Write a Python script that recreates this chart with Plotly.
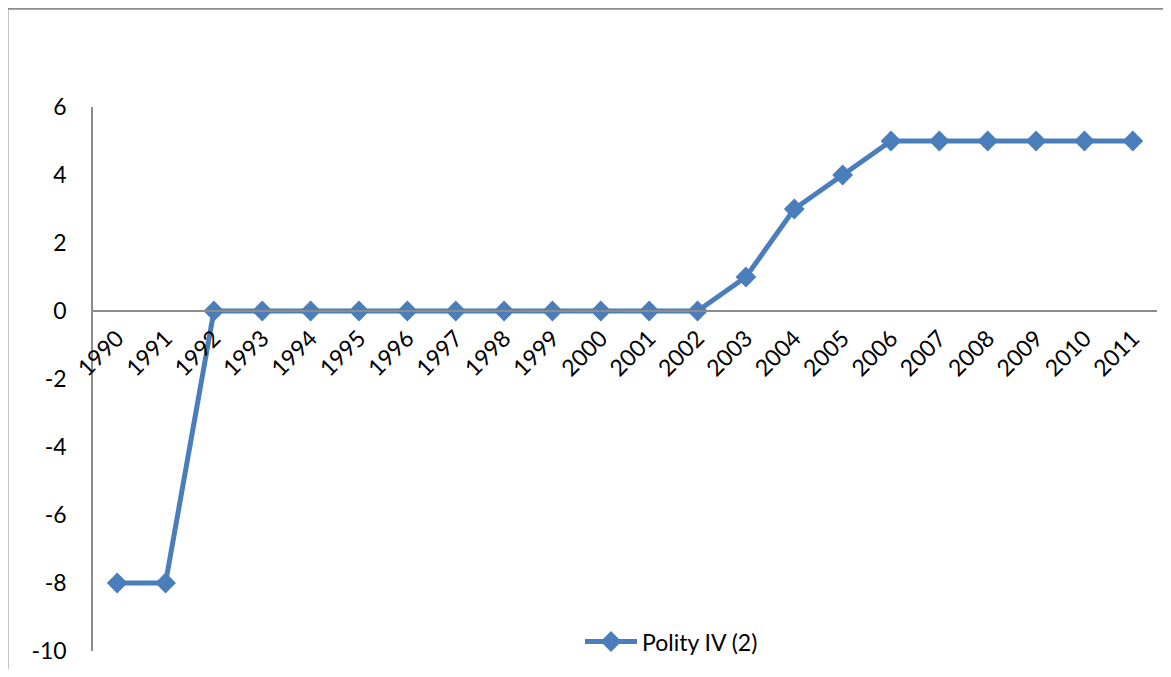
import plotly.graph_objects as go

years = [str(y) for y in range(1990, 2012)]
polity = [-8, -8, 0, 0, 0, 0, 0, 0, 0, 0, 0, 0, 0, 1, 3, 4, 5, 5, 5, 5, 5, 5]
series_name = "Polity IV (2)"
y_ticks = [-10, -8, -6, -4, -2, 0, 2, 4, 6]
y_tick_text = [str(v) for v in y_ticks]  # plain hyphen minus as in the original

FONT = "Lato, Carlito, 'Open Sans', sans-serif"
BLUE = "#4a7ebb"
GRAY = "#8c8c8c"
FS = 23

# the page body has an 8px margin; work in window pixels and convert
OFF = 8
W, H = 1171 - 2 * OFF, 677 - 2 * OFF
# plot area in window pixels
PL, PR, PT, PB = 93, 1157, 106.5, 654.5
L, T = PL - OFF, PT - OFF
R = W - (PR - OFF)
B = H - (PB - OFF)
pw, ph = PR - PL, PB - PT

def px_x(x):
    return (x - PL) / pw

def px_y(y):
    return (PB - y) / ph

ymin, ymax = -10, 6
zero_pos = (0 - ymin) / (ymax - ymin)

fig = go.Figure()
fig.add_trace(go.Scatter(
    x=years, y=polity, mode="lines+markers", name=series_name,
    line=dict(color=BLUE, width=5),
    marker=dict(symbol="diamond", size=16, color=BLUE),
))

fig.update_layout(
    width=W, height=H,
    margin=dict(l=L, r=R, t=T, b=B, pad=0),
    paper_bgcolor="white", plot_bgcolor="white",
    font=dict(family=FONT, size=FS, color="#000000"),
    showlegend=True,
    legend=dict(x=px_x(580), y=px_y(645), xanchor="left", yanchor="middle",
                bgcolor="rgba(0,0,0,0)", font=dict(size=FS), itemwidth=52),
    xaxis=dict(
        type="category", range=[-0.5, len(years) - 0.5],
        anchor="free", position=zero_pos,
        showline=True, linecolor=GRAY, linewidth=1.5,
        showgrid=False, zeroline=False, ticks="",
        tickangle=-45, tickfont=dict(size=FS), ticklabelstandoff=4,
    ),
    yaxis=dict(
        range=[ymin, ymax], tickvals=y_ticks, ticktext=y_tick_text,
        showline=True, linecolor=GRAY, linewidth=1.5,
        showgrid=False, zeroline=False, ticks="",
        ticklabelstandoff=20, tickfont=dict(size=FS),
    ),
    shapes=[dict(
        type="rect", xref="paper", yref="paper",
        x0=px_x(7.5), y0=px_y(700), x1=px_x(1200), y1=px_y(7.5),
        line=dict(color=GRAY, width=2), fillcolor="rgba(0,0,0,0)", layer="below",
    )],
)

fig.write_html("out.html")
